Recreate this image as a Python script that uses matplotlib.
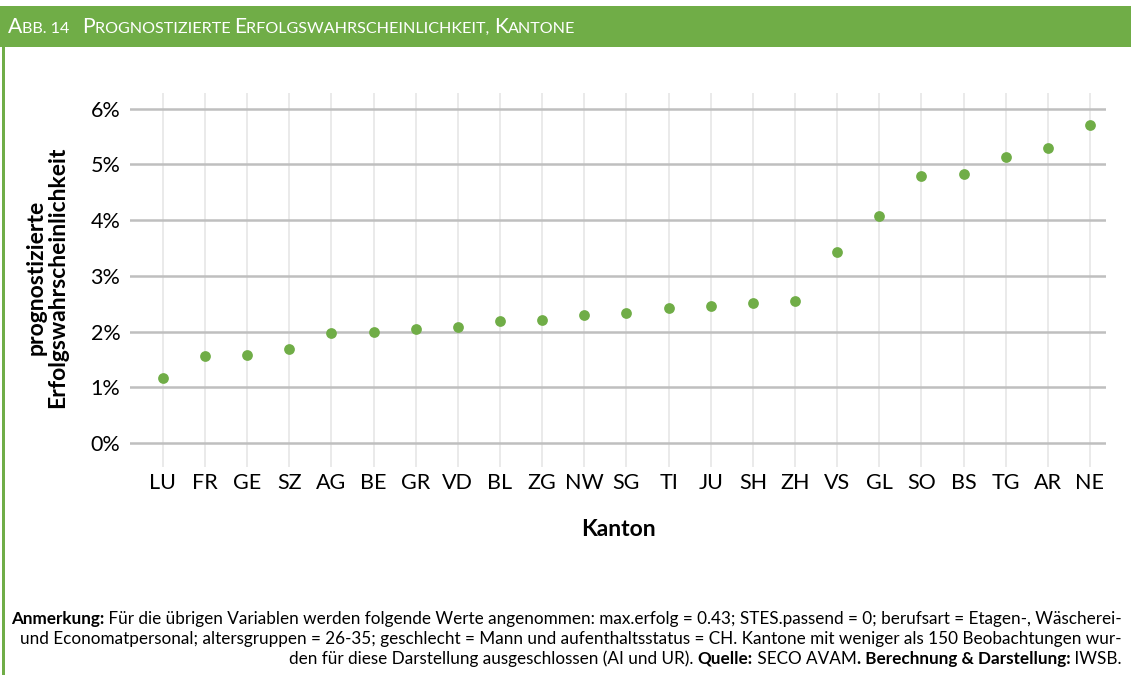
import matplotlib
matplotlib.use('Agg')
import matplotlib.pyplot as plt
from matplotlib.transforms import IdentityTransform
from matplotlib.patches import Rectangle
from matplotlib.ticker import FuncFormatter

# Daten
kantone = ['LU', 'FR', 'GE', 'SZ', 'AG', 'BE', 'GR', 'VD', 'BL', 'ZG', 'NW',
           'SG', 'TI', 'JU', 'SH', 'ZH', 'VS', 'GL', 'SO', 'BS', 'TG', 'AR', 'NE']
wahrscheinlichkeit = [1.17, 1.57, 1.58, 1.68, 1.98, 2.00, 2.04, 2.09, 2.19, 2.20, 2.30,
                      2.33, 2.42, 2.46, 2.51, 2.54, 3.43, 4.08, 4.79, 4.82, 5.13, 5.30, 5.71]
y_ticks = [0, 1, 2, 3, 4, 5, 6]

GREEN = '#70AD47'
plt.rcParams['font.family'] = ['Lato', 'DejaVu Sans']

W, H = 1131, 675
fig = plt.figure(figsize=(W / 100, H / 100), dpi=100)

# Rahmen und Kopfzeile
fig.patches.append(Rectangle((0, H - 47), W, 41, transform=IdentityTransform(),
                             facecolor=GREEN, edgecolor='none', zorder=0))
fig.patches.append(Rectangle((2, 0), 2.5, H - 47, transform=IdentityTransform(),
                             facecolor=GREEN, edgecolor='none', zorder=0))

renderer = fig.canvas.get_renderer()


def draw_segments(x, y, segments, color='black', align='left'):
    """Zeichnet Textstuecke nebeneinander (Pixelkoordinaten, y = Grundlinie)"""
    texts = []
    for s, size, weight in segments:
        t = fig.text(0, y, s, transform=IdentityTransform(), fontsize=size,
                     fontweight=weight, color=color, va='baseline', ha='left')
        texts.append(t)
    widths = [t.get_window_extent(renderer).width for t in texts]
    pos = x if align == 'left' else x - sum(widths)
    for t, w in zip(texts, widths):
        t.set_x(pos)
        pos += w
    return texts, sum(widths)


# Titel in Kapitaelchen
big, small = 15.2, 11.6
draw_segments(8, H - 33, [
    ('A', big, 'normal'), ('BB. 14   ', small, 'normal'),
    ('P', big, 'normal'), ('ROGNOSTIZIERTE ', small, 'normal'),
    ('E', big, 'normal'), ('RFOLGSWAHRSCHEINLICHKEIT, ', small, 'normal'),
    ('K', big, 'normal'), ('ANTONE', small, 'normal'),
], color='white')

# Diagramm
ax = fig.add_axes([130 / W, 1 - 467 / H, (1106 - 130) / W, (467 - 93) / H])
x = list(range(len(kantone)))
ax.scatter(x, wahrscheinlichkeit, s=60, color=GREEN, zorder=3, linewidths=0)
ax.set_xlim(-0.78, len(kantone) - 1 + 0.38)
ax.set_ylim(-0.43, 6.28)
ax.set_xticks(x)
ax.set_xticklabels(kantone)
ax.set_yticks(y_ticks)
ax.yaxis.set_major_formatter(FuncFormatter(lambda v, p: f'{v:.0f}%'))
ax.tick_params(axis='both', length=0, labelsize=15.5, colors='black')
ax.tick_params(axis='x', pad=4)
ax.tick_params(axis='y', pad=7)
ax.grid(axis='x', color='#E6E6E6', linewidth=1.2, zorder=0)
ax.grid(axis='y', color='#BFBFBF', linewidth=1.8, zorder=1)
ax.set_axisbelow(True)
for sp in ax.spines.values():
    sp.set_visible(False)

ax.set_xlabel('Kanton', fontsize=16.5, fontweight='bold', labelpad=19)
fig.text(47 / W, 1 - 277 / H, 'prognostizierte\nErfolgswahrscheinlichkeit',
         rotation=90, ha='center', va='center', fontsize=16.5, fontweight='bold',
         linespacing=1.05)

# Anmerkung: Schriftgroesse so waehlen, dass Zeile 1 von x=15 bis x=1122 reicht
right = 1122
zeile1 = [('Anmerkung:', 'bold'),
          (' Für die übrigen Variablen werden folgende Werte angenommen: max.erfolg = 0.43; '
           'STES.passend = 0; berufsart = Etagen-, Wäscherei-', 'normal')]
zeile2 = [('und Economatpersonal; altersgruppen = 26-35; geschlecht = Mann und aufenthaltsstatus = CH. '
           'Kantone mit weniger als 150 Beobachtungen wur-', 'normal')]
zeile3 = [('den für diese Darstellung ausgeschlossen (AI und UR). ', 'normal'),
          ('Quelle:', 'bold'), (' SECO AVAM', 'normal'),
          ('. Berechnung & Darstellung:', 'bold'), (' IWSB.', 'normal')]

probe, w0 = draw_segments(0, -100, [(s, 10, wt) for s, wt in zeile1])
for t in probe:
    t.remove()
fs = 10 * (right - 15) / w0

for zeile, yb in [(zeile1, 624), (zeile2, 644), (zeile3, 664)]:
    draw_segments(right, H - yb, [(s, fs, wt) for s, wt in zeile], align='right')

fig.savefig('out.png', dpi=100)
